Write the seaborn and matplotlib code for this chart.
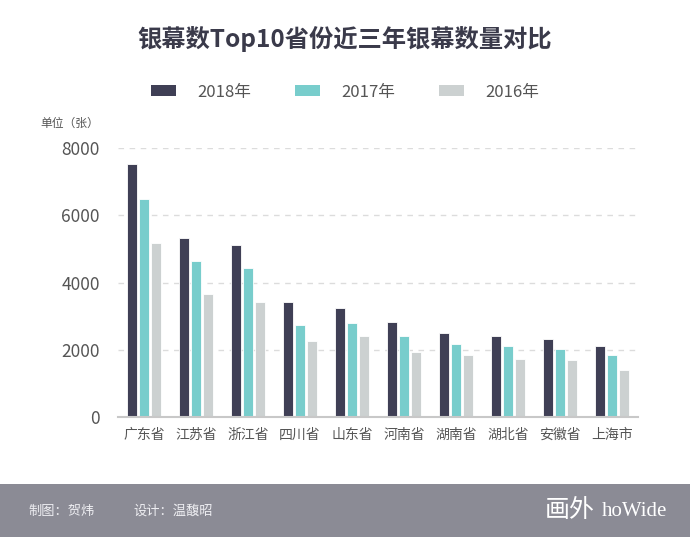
import matplotlib
matplotlib.use("Agg")
import matplotlib.pyplot as plt
from matplotlib.patches import Patch, Rectangle
import pandas as pd
import seaborn as sns

# data
provinces = ["广东省", "江苏省", "浙江省", "四川省", "山东省",
             "河南省", "湖南省", "湖北省", "安徽省", "上海市"]
years = ["2018年", "2017年", "2016年"]
screens_2018 = [7530, 5320, 5120, 3420, 3230, 2840, 2510, 2400, 2310, 2120]
screens_2017 = [6470, 4630, 4440, 2750, 2800, 2400, 2170, 2120, 2020, 1830]
screens_2016 = [5170, 3670, 3420, 2270, 2400, 1930, 1830, 1730, 1690, 1390]
yticks = [0, 2000, 4000, 6000, 8000]
colors = ["#3f3f55", "#78cdcc", "#ccd1d1"]

df = pd.DataFrame({
    "province": provinces * 3,
    "year": [y for y in years for _ in provinces],
    "screens": screens_2018 + screens_2017 + screens_2016,
})

sns.set_theme(style="white")
plt.rcParams["font.family"] = ["Noto Sans CJK SC", "DejaVu Sans"]

W, H = 690, 537
fig = plt.figure(figsize=(W / 100, H / 100), dpi=100)
ax = fig.add_axes([118 / W, 1 - 417 / H, 520 / W, 269 / H])

sns.barplot(data=df, x="province", y="screens", hue="year", hue_order=years,
            palette=colors, saturation=1, width=0.7, gap=0.2, edgecolor="white",
            linewidth=0.6, legend=False, ax=ax)

ax.set_xlim(-0.5, len(provinces) - 0.5)
ax.set_ylim(0, 8000)
ax.set_yticks(yticks)
ax.set_yticklabels([str(v) for v in yticks])
ax.set_xlabel("")
ax.set_ylabel("")
ax.yaxis.grid(True, color="#dcdcdc", linestyle=(0, (4, 4)), linewidth=1)
ax.set_axisbelow(True)
for s in ["top", "right", "left"]:
    ax.spines[s].set_visible(False)
ax.spines["bottom"].set_color("#c8c8c8")
ax.spines["bottom"].set_linewidth(1.5)
ax.tick_params(axis="x", length=0, pad=8, labelsize=10, labelcolor="#555555")
ax.tick_params(axis="y", length=0, pad=13, labelsize=12.5, labelcolor="#555555")

# title, unit, legend
fig.text(345 / W, 1 - 39 / H, "银幕数Top10省份近三年银幕数量对比", ha="center", va="center",
         fontsize=17.5, fontweight="bold", color="#3a3a4a")
fig.text(40 / W, 1 - 123 / H, "单位（张）", ha="left", va="center",
         fontsize=8.5, color="#555555")
handles = [Patch(facecolor=c, edgecolor="none", label=y) for c, y in zip(colors, years)]
fig.legend(handles=handles, loc="center", bbox_to_anchor=(345 / W, 1 - 92 / H), ncol=3,
           frameon=False, fontsize=12, handlelength=1.5, handleheight=0.65,
           handletextpad=1.3, columnspacing=2.6, labelcolor="#555555")

# footer band
fig.patches.append(Rectangle((0, 0), 1, 53 / H, transform=fig.transFigure,
                             facecolor="#8b8b95", edgecolor="none", zorder=0))
fig.text(28 / W, 1 - 511 / H, "制图：贺炜", ha="left", va="center", fontsize=9.5, color="#eeeef2")
fig.text(133 / W, 1 - 511 / H, "设计：温馥昭", ha="left", va="center", fontsize=9.5, color="#eeeef2")
fig.text(545 / W, 1 - 510 / H, "画外", ha="left", va="center", fontsize=18,
         fontweight="light", color="white")
fig.text(602 / W, 1 - 512 / H, "hoWide", ha="left", va="center", fontsize=15,
         family=["Liberation Serif", "DejaVu Serif"], color="white")

fig.savefig("out.png", dpi=100)
